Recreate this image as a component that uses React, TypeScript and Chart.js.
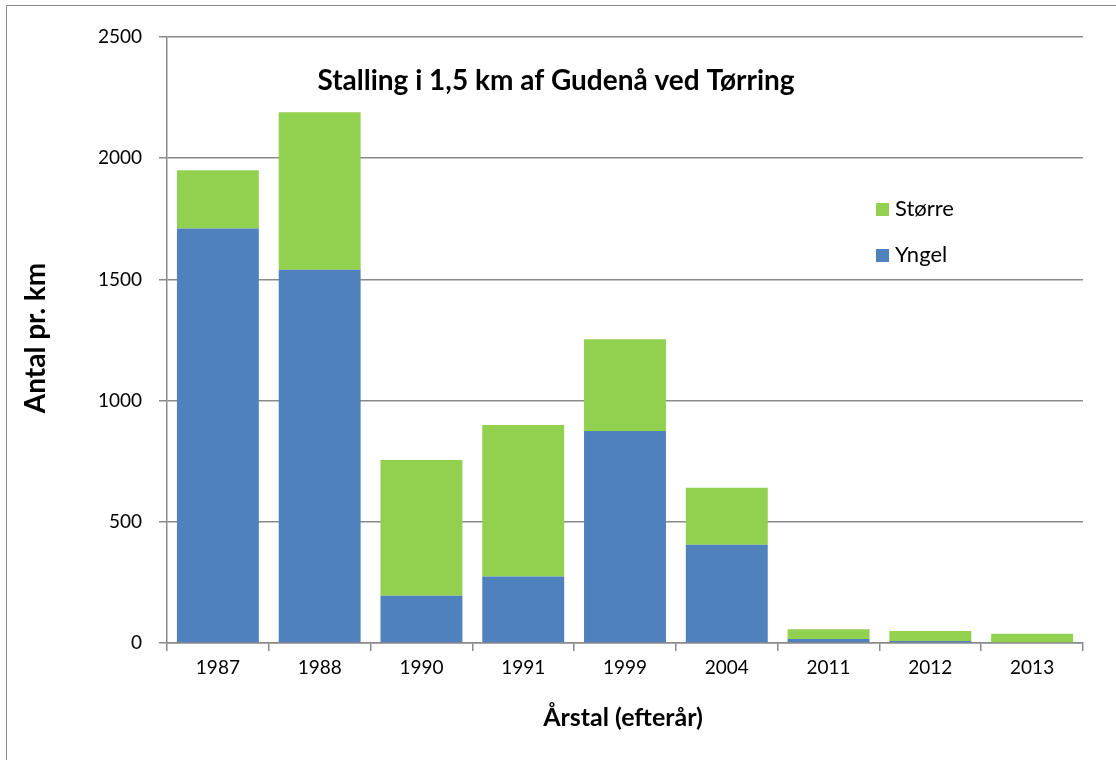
import React, { useEffect, useRef } from "react";
import { Chart, registerables } from "chart.js";

Chart.register(...registerables);

const categories = ["1987", "1988", "1990", "1991", "1999", "2004", "2011", "2012", "2013"];
const yngel = [1710, 1540, 195, 274, 875, 405, 16, 8, 0];
const storre = [240, 650, 560, 625, 378, 235, 41, 42, 38];
const seriesNames = ["Yngel", "Større"];
const yTicks = [0, 500, 1000, 1500, 2000, 2500];

const chartTitle = "Stalling i 1,5 km af Gudenå ved Tørring";
const yTitle = "Antal pr. km";
const xTitle = "Årstal (efterår)";

const FONT = "Lato, 'Open Sans', sans-serif";
const BLUE = "#4F81BD";
const GREEN = "#92D050";
const GRID = "#8a8a8a";

const overlayPlugin = {
  id: "overlay",
  afterDraw(chart: any) {
    const ctx = chart.ctx;
    ctx.save();
    ctx.fillStyle = "#000";
    ctx.textBaseline = "middle";
    // chart title
    ctx.font = `bold 28px ${FONT}`;
    ctx.textAlign = "center";
    ctx.fillText(chartTitle, 556, 81);
    // x title
    ctx.font = `bold 25px ${FONT}`;
    ctx.fillText(xTitle, 623, 718);
    // y title
    ctx.save();
    ctx.translate(36, 338);
    ctx.rotate(-Math.PI / 2);
    ctx.font = `bold 28px ${FONT}`;
    ctx.fillText(yTitle, 0, 0);
    ctx.restore();
    // legend
    ctx.textAlign = "left";
    ctx.font = `22px ${FONT}`;
    const items = [
      { label: seriesNames[1], color: GREEN, y: 209 },
      { label: seriesNames[0], color: BLUE, y: 255 },
    ];
    for (const it of items) {
      ctx.fillStyle = it.color;
      ctx.fillRect(876, it.y - 6, 13, 13);
      ctx.fillStyle = "#000";
      ctx.fillText(it.label, 895, it.y);
    }
    ctx.restore();
  },
};

export default function App() {
  const ref = useRef<HTMLCanvasElement>(null);

  useEffect(() => {
    if (!ref.current) return;
    const chart = new Chart(ref.current, {
      type: "bar",
      data: {
        labels: categories,
        datasets: [
          {
            label: seriesNames[0],
            data: yngel,
            backgroundColor: BLUE,
            borderWidth: 0,
            barPercentage: 0.805,
            categoryPercentage: 1,
          },
          {
            label: seriesNames[1],
            data: storre,
            backgroundColor: GREEN,
            borderWidth: 0,
            barPercentage: 0.805,
            categoryPercentage: 1,
          },
        ],
      },
      options: {
        responsive: false,
        animation: false,
        layout: { padding: { left: 10, top: 37, right: 33, bottom: 0 } },
        plugins: {
          legend: { display: false },
          title: { display: false },
          tooltip: { enabled: false },
        },
        scales: {
          x: {
            stacked: true,
            afterFit: (s: any) => {
              s.height = 117;
            },
            grid: {
              display: true,
              offset: true,
              drawOnChartArea: false,
              drawTicks: true,
              tickLength: 8,
              color: GRID,
              lineWidth: 1.5,
            },
            border: { display: true, color: GRID, width: 1.5 },
            ticks: {
              color: "#000",
              font: { family: FONT, size: 19 },
              padding: 5,
              maxRotation: 0,
            },
          },
          y: {
            stacked: true,
            min: 0,
            max: 2500,
            afterFit: (s: any) => {
              s.width = 157;
            },
            afterBuildTicks: (s: any) => {
              s.ticks = yTicks.map((v) => ({ value: v }));
            },
            grid: {
              display: true,
              drawTicks: true,
              tickLength: 8,
              color: GRID,
              lineWidth: 1.5,
            },
            border: { display: true, color: GRID, width: 1.5 },
            ticks: {
              color: "#000",
              font: { family: FONT, size: 19 },
              padding: 17,
              callback: (v: any) => String(v),
            },
          },
        },
      },
      plugins: [overlayPlugin],
    });
    return () => chart.destroy();
  }, []);

  return (
    <div
      style={{
        position: "fixed",
        left: 0,
        top: 0,
        width: 1116,
        height: 760,
        overflow: "hidden",
        background: "#fff",
      }}
    >
      <div
        style={{
          position: "absolute",
          left: 6,
          top: 5,
          width: 1200,
          height: 900,
          border: "1.5px solid #8a8a8a",
        }}
      />
      <canvas
        ref={ref}
        width={1116}
        height={760}
        style={{ position: "absolute", left: 0, top: 0, width: 1116, height: 760 }}
      />
    </div>
  );
}
